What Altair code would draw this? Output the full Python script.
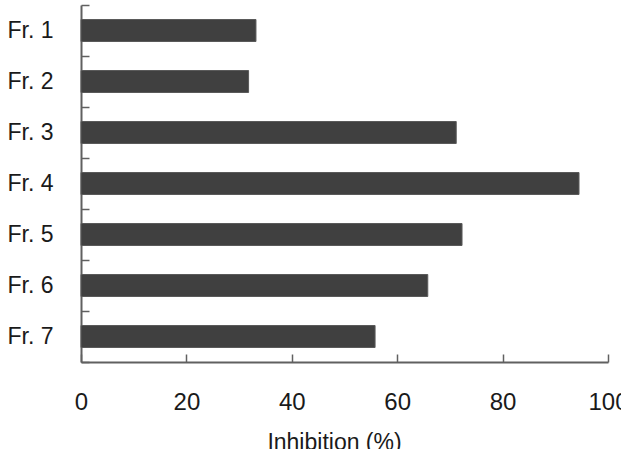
import altair as alt
import pandas as pd

fractions = ["Fr. 1", "Fr. 2", "Fr. 3", "Fr. 4", "Fr. 5", "Fr. 6", "Fr. 7"]
inhibition = [33.2, 31.8, 71.2, 94.5, 72.3, 65.8, 55.8]
x_ticks = [0, 20, 40, 60, 80, 100]

df = pd.DataFrame({"fraction": fractions, "inhibition": inhibition})

FONT = "Liberation Sans"

chart = (
    alt.Chart(df)
    .mark_bar(size=22, color="#404040", stroke="#5a5a5a", strokeWidth=1)
    .encode(
        x=alt.X(
            "inhibition:Q",
            scale=alt.Scale(domain=[0, 100], nice=False),
            axis=alt.Axis(
                values=x_ticks,
                title="Inhibition (%)",
                titleFont=FONT,
                titleFontSize=23,
                titleFontWeight="normal",
                titleColor="#1a1a1a",
                titlePadding=17,
                titleX=253,
                labelFont=FONT,
                labelFontSize=24,
                labelColor="#1a1a1a",
                labelPadding=36,
                labelFlush=False,
                domainColor="#606060",
                domainWidth=2,
                tickColor="#606060",
                tickWidth=1.5,
                tickSize={"expr": "-8"},
                grid=False,
            ),
        ),
        y=alt.Y(
            "fraction:N",
            sort=fractions,
            scale=alt.Scale(paddingInner=0, paddingOuter=0),
            axis=alt.Axis(
                title=None,
                labelFont=FONT,
                labelFontSize=23,
                labelColor="#1a1a1a",
                labelPadding=36,
                domainColor="#606060",
                domainWidth=2,
                tickColor="#606060",
                tickWidth=1.5,
                tickSize={"expr": "-8"},
                tickBand="extent",
                grid=False,
            ),
        ),
    )
    .properties(
        width=527,
        height=357,
        padding={"left": 81, "top": 5, "right": 13, "bottom": 87},
        autosize=alt.AutoSizeParams(type="none"),
    )
    .configure(background="white")
    .configure_view(stroke="transparent", strokeWidth=0)
)

chart.save("out.html", embed_options={"renderer": "svg", "actions": False})
